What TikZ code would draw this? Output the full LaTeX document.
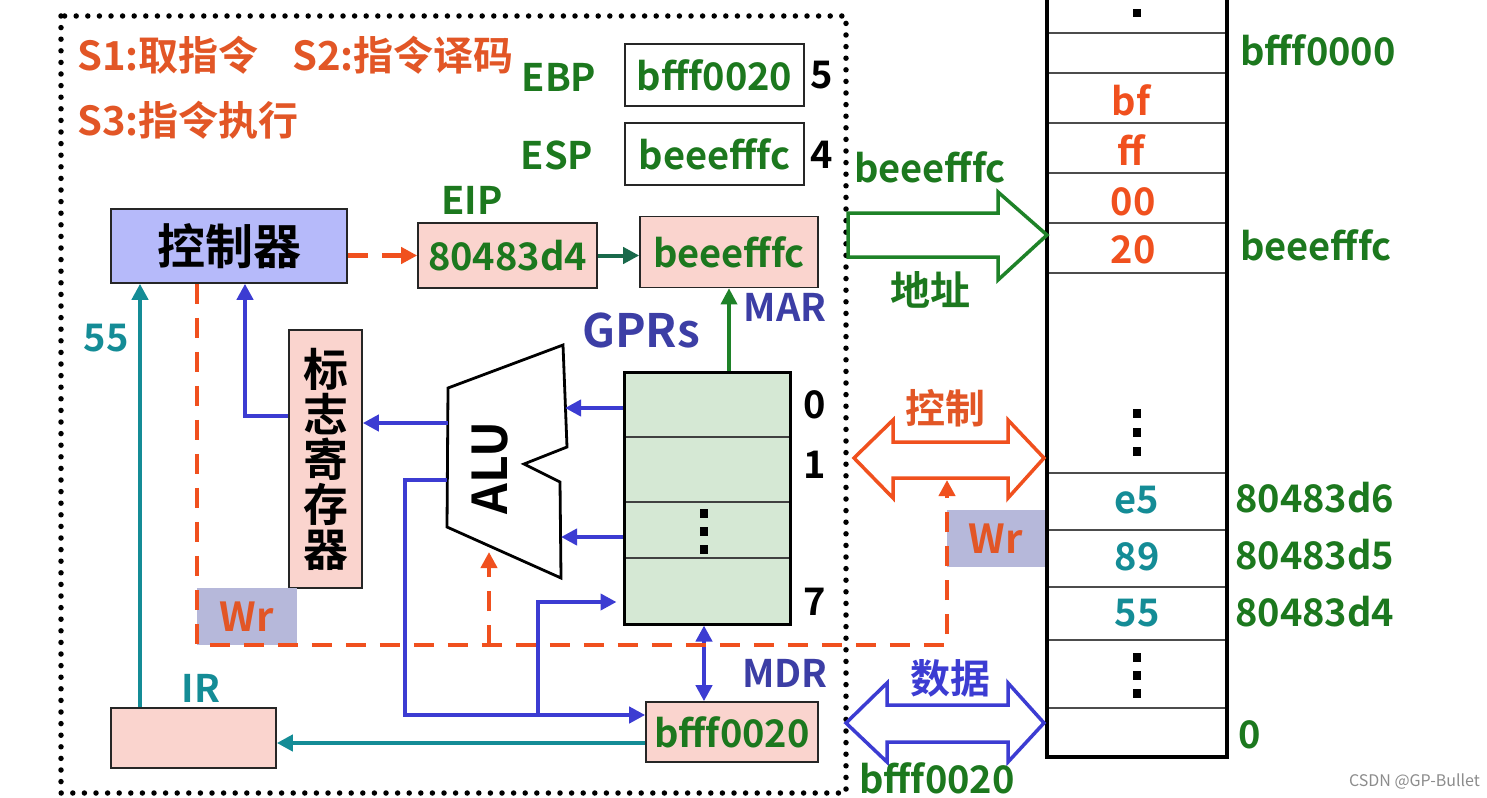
\documentclass[tikz,border=0pt]{standalone}
\usepackage{fontspec}
\setmainfont{Noto Sans CJK SC}[BoldFont={Noto Sans CJK SC Bold}]
\usetikzlibrary{arrows.meta}
\newcommand\myfs[1]{\fontsize{#1}{#1}\selectfont}
\definecolor{orT}{RGB}{226,86,38}
\definecolor{orM}{RGB}{240,80,30}
\definecolor{grT}{RGB}{28,120,30}
\definecolor{grA}{RGB}{25,105,75}
\definecolor{grB}{RGB}{30,130,40}
\definecolor{blL}{RGB}{60,60,210}
\definecolor{blT}{RGB}{60,62,165}
\definecolor{tealC}{RGB}{20,140,150}
\definecolor{pinkF}{RGB}{250,212,206}
\definecolor{ctrlF}{RGB}{182,186,250}
\definecolor{gprF}{RGB}{213,232,212}
\definecolor{wrF}{RGB}{182,184,218}
\tikzset{
  lbl/.style={inner sep=0pt, font=\myfs{38}\bfseries},
  regbox/.style={draw=black!85, line width=1.6pt, inner sep=0pt, fill=pinkF, text=grT, font=\myfs{38}\bfseries},
  wrbox/.style={fill=wrF, inner sep=0pt, text=orT, font=\myfs{40}\bfseries},
  bl/.style={draw=blL, line width=4.2pt},
  tl/.style={draw=tealC, line width=4.2pt},
  ordash/.style={draw=orM, line width=4.2pt, dash pattern=on 20pt off 14pt},
  memline/.style={draw=black!70, line width=2.2pt},
  memdot/.style={fill=black},
  bus/.style={line width=3.5pt, line join=miter, fill=white}
}
\begin{document}
\begin{tikzpicture}[x=1pt,y=-1pt,>={Triangle[length=16pt,width=16pt]}]
\useasboundingbox (0,0) rectangle (1487,797);
\fill[white] (0,0) rectangle (1487,797);

% dotted frame
\draw[line width=5.5pt, line cap=round, dash pattern=on 0pt off 11.6pt] (61,16) rectangle (846,793);

% header texts
\node[lbl, text=orT, anchor=west, font=\myfs{40}\bfseries] (s1) at (77,55) {S1:取指令};
\node[lbl, text=orT, anchor=west, font=\myfs{40}\bfseries] (s2) at (292,55) {S2:指令译码};
\node[lbl, text=orT, anchor=west, font=\myfs{40}\bfseries] (s3) at (77,120) {S3:指令执行};

% EBP / ESP
\node[lbl, text=grT] (ebpl) at (559,77) {EBP};
\node[regbox, fill=white, minimum width=179pt, minimum height=62pt] (ebp) at (714.5,75) {bfff0020};
\node[lbl] (n5) at (822,75) {5};
\node[lbl, text=grT] (espl) at (557,155) {ESP};
\node[regbox, fill=white, minimum width=179pt, minimum height=62pt] (esp) at (714.5,154) {beeefffc};
\node[lbl] (n4) at (822,155) {4};

% controller, EIP, MAR
\node[draw=black!85, line width=1.6pt, fill=ctrlF, inner sep=0pt, minimum width=236pt, minimum height=74pt, font=\myfs{48}\bfseries] (ctrl) at (229,246) {控制器};
\node[lbl, text=grT] (eipl) at (472,200) {EIP};
\node[regbox, minimum width=179pt, minimum height=65pt] (eip) at (507.5,255.5) {80483d4};
\node[regbox, minimum width=178pt, minimum height=71pt] (mar) at (729,252) {beeefffc};
\node[lbl, text=blT] (marl) at (785,307) {MAR};
\node[inner sep=0pt, text=blT, font=\myfs{46}\bfseries] (gprl) at (641,330) {GPRs};

% flags register
\node[regbox, text=black, minimum width=73pt, minimum height=258pt, align=center, font=\myfs{45}\bfseries] (flags) at (325.5,459) {\fontsize{45}{48.5}\selectfont 标\\志\\寄\\存\\器};

% GPRs
\node[draw=black, line width=3pt, fill=gprF, inner sep=0pt, minimum width=166pt, minimum height=252pt] (gpr) at (707,498) {};
\foreach \yy in {437,502,558} \draw[line width=1.8pt, black!75] (625.5,\yy) -- (788.5,\yy);
\foreach \yy in {513,531,549} \fill[memdot] (700,\yy-4.5) rectangle (708,\yy+4.5);
\node[lbl] (g0) at (815,405) {0};
\node[lbl] (g1) at (815,465) {1};
\node[lbl] (g7) at (815,602) {7};

% ALU
\draw[line width=2.8pt, fill=white, line join=miter] (448,388) -- (563,345) -- (567,447) -- (524,464) -- (560,482) -- (561,578) -- (447,527) -- cycle;
\node[inner sep=0pt, rotate=90, font=\myfs{48}\bfseries] (alu) at (490,468) {ALU};
\coordinate (alul1) at (448,423);
\coordinate (alul2) at (447,480);
\coordinate (alur1) at (565,408);
\coordinate (alur2) at (561,537);
\coordinate (alub) at (489,552);

% IR, MDR
\node[regbox, minimum width=165pt, minimum height=60pt] (ir) at (193.5,738) {};
\node[lbl, text=tealC] (irl) at (201,688) {IR};
\node[lbl, text=tealC] (n55) at (106,338) {55};
\node[regbox, minimum width=172pt, minimum height=60pt] (mdr) at (732,732) {bfff0020};
\node[lbl, text=blT] (mdrl) at (785,673) {MDR};

% Wr boxes
\node[wrbox, minimum width=100pt, minimum height=57pt] (wr1) at (247,616.5) {Wr};
\node[wrbox, minimum width=98pt, minimum height=57pt] (wr2) at (996,538.5) {Wr};

% memory column
\draw[line width=4.5pt] (1047,-5) -- (1047,757) -- (1227,757) -- (1227,-5);
\foreach \yy in {33,73,123,173,223,273,473,530,587,640,708} \draw[memline] (1049,\yy) -- (1225,\yy);
\foreach \yy in {-5,13} \fill[memdot] (1133,\yy-4) rectangle (1141,\yy+4);
\foreach \yy in {413,432,451} \fill[memdot] (1133,\yy-4.5) rectangle (1141,\yy+4.5);
\foreach \yy in {657,675,693} \fill[memdot] (1133,\yy-4.5) rectangle (1141,\yy+4.5);
\node[lbl, text=orM] (mbf) at (1131,100) {bf};
\node[lbl, text=orM] (mff) at (1131,150) {ff};
\node[lbl, text=orM] (m00) at (1133,202) {00};
\node[lbl, text=orM] (m20) at (1133,250) {20};
\node[lbl, text=tealC] (me5) at (1137,500) {e5};
\node[lbl, text=tealC] (m89) at (1137,557) {89};
\node[lbl, text=tealC] (m55) at (1137,613) {55};
\node[lbl, text=grT, anchor=west] (a1) at (1240,50) {bfff0000};
\node[lbl, text=grT, anchor=west] (a2) at (1240,245) {beeefffc};
\node[lbl, text=grT, anchor=west] (a3) at (1235,498) {80483d6};
\node[lbl, text=grT, anchor=west] (a4) at (1235,555) {80483d5};
\node[lbl, text=grT, anchor=west] (a5) at (1235,612) {80483d4};
\node[lbl, text=grT, anchor=west] (a6) at (1238,735) {0};

% buses
\draw[bus, draw=grB] (848,213) -- (998,213) -- (998,192) -- (1047,235) -- (998,280) -- (998,257) -- (848,257) -- cycle;
\node[lbl, text=grT] (busa1) at (930,167) {beeefffc};
\node[lbl, text=grT, font=\myfs{40}\bfseries] (busa2) at (930,290) {地址};
\draw[bus, draw=orM] (854,458) -- (893,420) -- (893,442) -- (1008,442) -- (1008,420) -- (1044,458) -- (1008,498) -- (1008,478) -- (893,478) -- (893,498) -- cycle;
\node[lbl, text=orT, font=\myfs{40}\bfseries] (busc) at (945,408) {控制};
\draw[bus, draw=blL] (846,723) -- (887,683) -- (887,705) -- (1008,705) -- (1008,683) -- (1044,723) -- (1008,762) -- (1008,742) -- (887,742) -- (887,762) -- cycle;
\node[lbl, text=blL, font=\myfs{40}\bfseries] (busd) at (950,678) {数据};
\node[lbl, text=grT] (busd2) at (937,778) {bfff0020};

% connectors: green
\draw[draw=grA, line width=4pt, ->] (eip.east) -- (mar.west |- eip.east);
\draw[draw=grB, line width=3.5pt, ->] (gpr.north -| mar.south) -- (mar.south);

% connectors: blue
\draw[bl, ->] (gpr.west |- alur1) -- (alur1);
\draw[bl, ->] (gpr.west |- alur2) -- (alur2);
\draw[bl, ->] (alul1) -- (flags.east |- alul1);
\coordinate (fk) at (245,416);
\draw[bl, ->] (flags.west |- fk) -- (fk) -- (ctrl.south -| fk);
\coordinate (b1) at (405,715);
\draw[bl, ->] (alul2) -| (b1) -- (mdr.west |- b1);
\coordinate (b2) at (538,715);
\coordinate (b3) at (538,602);
\draw[bl, ->, shorten >=6pt] (b2) -- (b3) -- (gpr.west |- b3);
\coordinate (mx) at (704,0);
\draw[bl, <->] (gpr.south -| mx) -- (mdr.north -| mx);

% connectors: teal
\coordinate (t1) at (0,743);
\draw[tl, ->] (mdr.west |- t1) -- (ir.east |- t1);
\coordinate (t2) at (140,0);
\draw[tl, ->] (ir.north -| t2) -- (ctrl.south -| t2);

% connectors: orange dashed
\draw[ordash, ->] (ctrl.east |- eip.west) -- (eip.west);
\coordinate (cA) at (197,645);
\coordinate (cB) at (947,645);
\coordinate (cC) at (947,480);
\coordinate (cD) at (489,645);
\draw[ordash, ->] (ctrl.south -| cA) -- (cA) -- (cB) -- (cC);
\draw[ordash, ->] (cD) -- (alub);

% watermark
\node[inner sep=0pt, anchor=east, text=black!45, font=\myfs{16}] (wm) at (1480,782) {CSDN @GP-Bullet};
\end{tikzpicture}
\end{document}
